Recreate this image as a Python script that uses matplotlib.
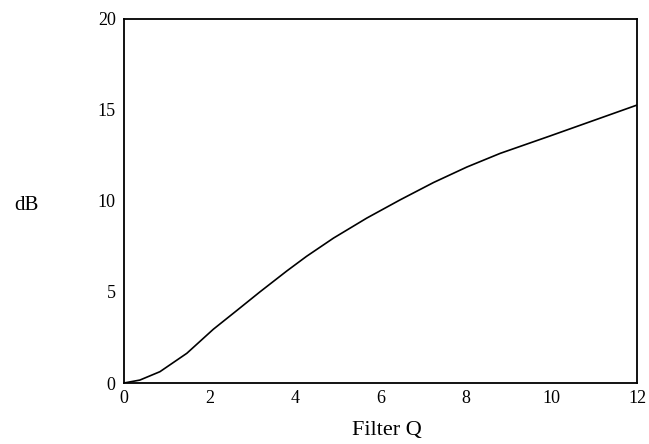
import numpy as np
import matplotlib
matplotlib.use("Agg")
from matplotlib import pyplot as plt

plt.rcParams['font.family'] = ['Liberation Serif', 'DejaVu Serif']

# values
q = [0, 0.37, 0.84, 1.47, 2.09, 2.64, 3.18, 3.81, 4.27, 4.9, 5.68, 6.46, 7.24, 8.02, 8.8, 9.96, 10.98, 12]
db = [0, 0.16, 0.62, 1.63, 2.95, 3.98, 5.0, 6.15, 6.95, 7.95, 9.05, 10.05, 11.0, 11.85, 12.6, 13.55, 14.4, 15.25]

x_ticks = [0, 2, 4, 6, 8, 10, 12]
y_ticks = [0, 5, 10, 15, 20]

fig = plt.figure(figsize=(6.49, 4.44), dpi=100)
ax = fig.add_axes([124/649, 1 - 383/444, (637-124)/649, (383-18.5)/444])

ax.plot(q, db, color='black', linewidth=1.2)

ax.set_xlim(0, 12)
ax.set_ylim(0, 20)
ax.set_xticks(x_ticks)
ax.set_yticks(y_ticks)
ax.tick_params(length=0, labelsize=13)
ax.tick_params(axis='x', pad=5)
ax.tick_params(axis='y', pad=6)
for s in ax.spines.values():
    s.set_linewidth(1.3)

fig.text(26/649, 1 - 205/444, 'dB', fontsize=15, ha='center', va='center')
fig.text(387/649, 1 - 430/444, 'Filter Q', fontsize=16, ha='center', va='center')

fig.savefig('out.png', dpi=100)
